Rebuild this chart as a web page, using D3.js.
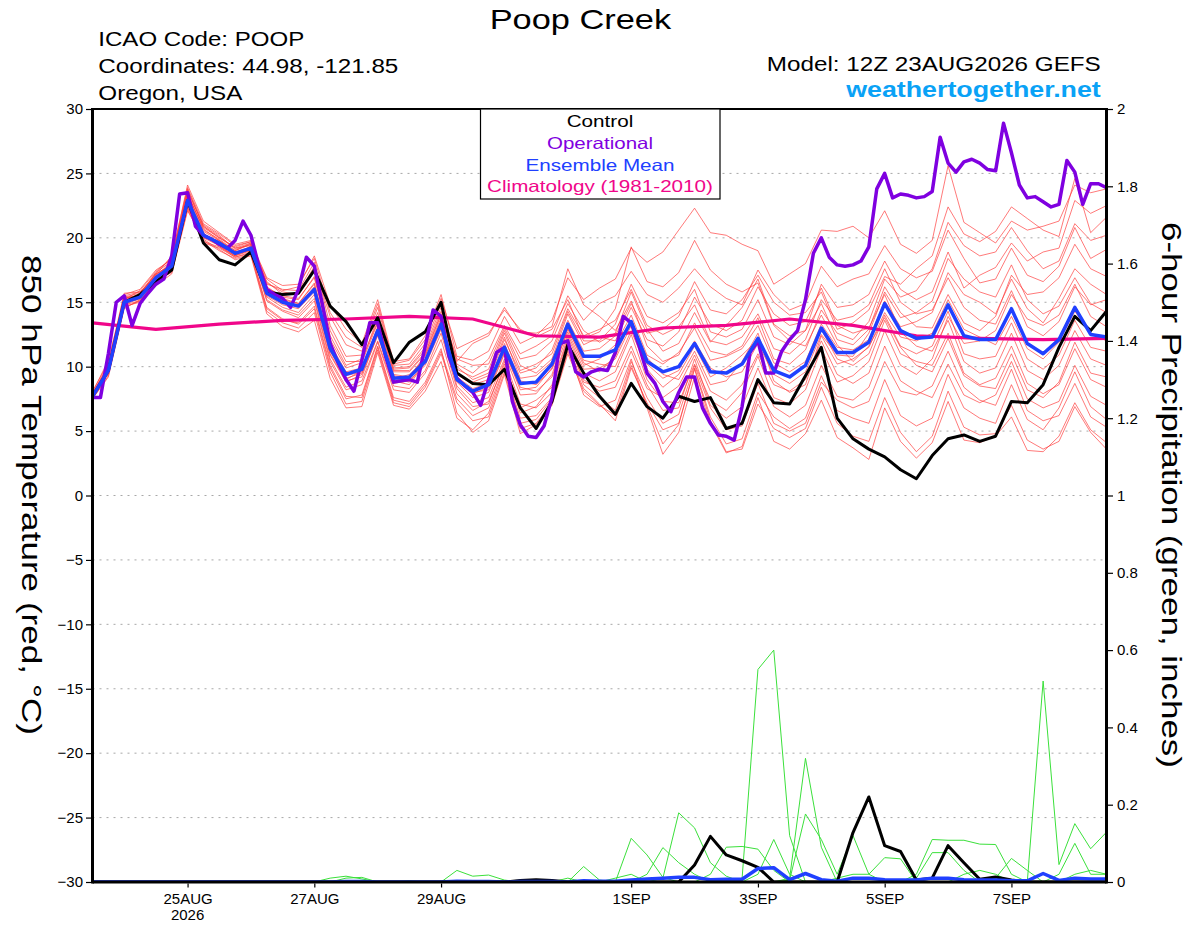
<!DOCTYPE html>
<html><head><meta charset="utf-8">
<script src="https://cdn.jsdelivr.net/npm/d3@7"></script>
<style>
body{margin:0;background:#fff}
svg{display:block}
text{font-family:"Liberation Sans",Arial,Helvetica,sans-serif}
</style>
</head><body>
<svg id="chart" width="1200" height="927"></svg>
<script>
// ---------------- DATA ----------------
const runStart = "2026-08-23T12:00:00Z";
const stepHours = 6;      // ensemble / control / mean
const opStepHours = 3;    // operational run
const climStepHours = 24; // climatology
const endHours = 384;

const tempTicks = [-30,-25,-20,-15,-10,-5,0,5,10,15,20,25,30];
const gridTemps = [-25,-20,-15,-10,-5,0,5,10,15,20,25];
const precipTicks = [0,0.2,0.4,0.6,0.8,1,1.2,1.4,1.6,1.8,2];
const dateTicks = ["2026-08-25","2026-08-27","2026-08-29","2026-09-01","2026-09-03","2026-09-05","2026-09-07"];
const dateTickLabels = ["25AUG","27AUG","29AUG","1SEP","3SEP","5SEP","7SEP"];
const yearLabel = "2026";

const titleText = "Poop Creek";
const infoLines = ["ICAO Code: POOP","Coordinates: 44.98, -121.85","Oregon, USA"];
const modelText = "Model: 12Z 23AUG2026 GEFS";
const siteText = "weathertogether.net";
const legendLabels = ["Control","Operational","Ensemble Mean","Climatology (1981-2010)"];
const leftTitle = "850 hPa Temperature (red, °C)";
const rightTitle = "6-hour Precipitation (green, inches)";

const controlTemp = [7.7,9.7,15.0,15.6,16.6,17.5,22.9,19.6,18.3,17.9,18.9,15.8,15.6,15.7,17.5,14.7,13.5,11.7,13.8,10.3,11.9,12.7,15.0,9.5,8.7,8.6,9.8,6.8,5.2,7.3,11.7,9.5,7.7,6.3,8.7,6.9,6.0,7.7,7.3,7.6,5.2,5.6,9.0,7.2,7.1,9.3,11.5,6.0,4.4,3.6,3.0,2.0,1.3,3.1,4.4,4.7,4.2,4.6,7.3,7.2,8.6,11.5,13.9,12.8,14.3];

const meanTemp = [7.7,9.7,15.0,15.4,16.9,17.8,22.9,20.2,19.6,18.8,19.2,15.7,15.0,14.7,16.0,11.4,9.4,9.8,12.8,9.1,9.2,10.4,13.3,9.0,8.1,8.6,11.5,8.7,8.8,10.2,13.3,10.8,10.8,11.3,13.5,10.4,9.6,10.0,11.8,9.6,9.5,10.2,12.2,9.7,9.2,10.1,13.0,11.1,11.1,11.9,14.9,12.8,12.2,12.3,14.8,12.4,12.1,12.1,14.5,11.8,11.0,12.1,14.6,12.5,12.3];

const operationalTemp = [7.6,7.6,11.0,15.0,15.5,13.2,14.9,15.7,16.4,16.8,
18.6,23.4,23.5,20.9,20.2,19.9,19.5,19.2,19.8,21.3,
20.2,17.8,16.0,15.6,15.3,14.6,16.0,18.5,17.8,14.9,
11.8,10.3,9.0,8.1,10.5,13.4,13.4,10.8,8.8,8.9,
9.0,8.8,11.6,14.4,13.9,10.8,9.1,8.5,8.0,7.0,
9.0,11.1,11.5,7.3,5.5,4.6,4.5,5.4,7.6,11.8,
12.0,9.6,9.2,9.6,9.8,9.7,11.1,13.9,13.4,11.6,
9.5,8.7,7.3,6.5,8.0,9.2,9.2,6.8,5.6,4.7,
4.6,4.3,6.9,11.1,12.0,9.5,9.5,11.2,12.1,12.8,
15.2,18.8,20.0,18.5,17.9,17.8,17.9,18.2,19.3,23.8,
25.0,23.1,23.4,23.3,23.1,23.2,23.6,27.8,25.8,25.1,
25.9,26.1,25.8,25.3,25.2,28.9,26.6,24.1,23.1,23.2,
22.8,22.4,22.6,26.0,25.1,22.6,24.2,24.2,23.9];

const climatologyTemp = [13.4,12.9,13.3,13.6,13.7,13.9,13.7,12.4,12.3,13.0,13.2,13.7,13.2,12.4,12.2,12.1,12.2];

const memberTemps = [
[7.8,9.9,15.2,15.6,16.8,17.6,23.2,20.5,19.8,18.9,19.3, 15.9,15.2,14.9,16.5,11.8,9.6,9.9,13.0,9.2,9.0,10.5,13.6, 9.4,8.6,9.0,12.1,9.5,9.9,11.3,14.5,12.4,12.9,13.6,16.0,13.2,12.5,13.1,14.8,12.0,11.7,12.3,14.1, 11.4,11.0,12.1,15.2,13.6,13.9,14.8,17.6,15.0,14.1,14.4,16.9,14.6,13.6,13.3,15.9,13.1,12.4,13.5,16.2,14.8,15.2],
[7.6,9.5,14.8,15.3,17.1,18.0,22.6,20.0,19.4,18.6,19.0, 15.4,14.6,14.2,15.6,10.9,8.8,9.4,12.4,8.7,8.9,10.1,12.9, 8.5,7.2,7.6,10.6,7.1,6.8,8.0,11.9,9.0,8.1,8.4,11.2,8.3,7.6,8.5,10.9,8.1,7.4,8.6,11.0, 8.6,8.1,9.0,12.0,9.4,8.7,9.5,12.8,10.1,9.4,10.6,13.9,11.8,12.0,12.8,15.6,13.7,13.2,14.0,16.4,13.9,13.1],
[7.9,10.2,15.5,15.8,17.0,18.2,23.8,20.9,20.1,19.2,19.6, 16.8,15.9,16.2,18.6,14.8,12.9,11.8,15.2,10.4,10.6,12.4,15.6, 10.8,10.5,11.2,13.9,11.8,12.4,13.6,16.9,15.2,16.1,16.8,19.2,18.1,18.9,20.6,22.3,20.4,20.2,19.5,19.0, 16.4,17.2,18.0,20.6,20.5,20.9,20.0,22.1,19.5,18.8,19.8,25.6,21.2,20.4,19.6,21.3,20.6,20.9,21.3,24.1,23.5,23.8],
[7.5,9.3,14.6,15.1,16.5,17.4,22.2,19.8,19.0,18.4,18.7, 14.3,13.4,13.0,14.2,9.6,7.1,7.3,11.3,7.2,6.9,8.4,11.0, 7.2,5.8,6.1,9.6,5.2,5.6,7.2,11.2,8.3,7.1,5.8,9.9,7.2,5.1,5.6,9.8,5.8,3.4,3.6,7.1, 5.2,4.5,5.2,8.4,5.6,4.6,4.2,7.6,4.9,3.4,4.6,8.1,5.3,4.7,4.8,7.0,4.3,3.6,4.2,6.9,4.9,3.6],
[8.0,10.5,15.3,15.5,17.3,18.5,24.1,21.3,20.4,19.5,19.8, 16.5,15.8,15.6,17.8,13.9,11.7,11.2,14.6,10.1,10.2,11.8,14.9, 10.4,11.8,12.4,14.6,12.7,12.6,13.1,17.6,14.8,13.9,12.8,15.1,11.6,10.4,10.9,13.4,11.2,10.9,11.6,13.8, 10.6,10.2,11.3,14.4,12.6,12.1,13.5,16.8,15.4,15.9,17.6,21.2,19.4,18.6,18.9,20.8,19.0,17.6,18.2,21.1,19.8,20.2],
[7.7,9.6,15.1,15.2,16.6,17.7,22.9,20.1,19.5,18.7,19.1, 15.7,15.0,14.6,15.9,11.2,9.0,9.7,12.6,9.0,9.4,10.6,13.4, 9.1,7.9,8.4,11.3,8.2,8.4,9.9,13.0,10.3,9.6,10.8,13.6,10.7,9.4,9.0,11.2,8.6,8.9,10.4,12.6, 8.9,8.0,8.6,12.4,10.2,10.6,11.5,14.2,12.3,12.0,12.6,15.2,12.9,12.3,11.7,13.9,11.4,10.6,11.9,14.3,12.6,12.0],
[7.6,9.8,14.9,15.7,17.2,17.9,23.5,20.6,19.9,19.0,19.5, 16.1,15.5,15.3,16.9,12.1,9.9,10.3,13.4,9.6,9.6,11.0,14.0, 9.8,9.2,9.8,12.8,10.1,9.5,10.6,14.1,11.7,12.3,12.0,14.6,12.1,11.6,12.7,15.4,13.3,12.8,13.6,16.2, 14.1,13.2,13.5,16.1,13.2,12.6,13.0,15.6,12.7,11.6,11.2,13.6,10.4,9.5,9.9,12.6,9.7,9.0,10.1,12.8,10.6,10.1],
[7.8,9.4,15.4,15.4,16.7,17.3,22.4,19.6,19.2,18.5,18.9, 14.6,13.7,13.3,14.5,9.9,7.5,7.8,11.6,7.6,7.3,8.8,11.4, 6.4,4.9,5.8,9.4,4.8,5.5,7.0,11.0,8.1,7.0,6.2,10.1,7.0,4.0,5.5,9.9,6.1,4.0,4.4,8.0, 6.1,5.2,6.0,9.3,6.6,6.0,5.6,9.0,6.2,5.4,6.0,9.4,6.8,6.0,5.6,8.6,5.9,5.1,6.8,9.6,6.9,5.9],
[7.9,10.0,15.6,16.0,17.5,18.3,23.3,20.8,20.0,19.3,19.7, 16.4,16.0,15.9,18.1,13.2,10.8,10.9,14.2,9.9,10.0,11.5,14.6, 10.2,9.5,10.6,13.2,11.0,11.6,12.4,15.5,13.6,14.9,15.5,17.4,15.6,15.0,16.1,17.6,16.2,15.3,14.8,17.5, 15.6,14.4,14.9,17.8,16.2,16.8,17.2,19.4,17.6,16.9,17.4,20.6,18.4,16.5,16.8,19.2,17.1,16.6,17.8,20.8,18.4,19.1],
[7.7,9.7,14.7,15.0,16.4,17.5,22.7,20.3,19.7,18.8,19.0, 15.2,14.4,14.0,15.3,10.6,8.4,8.9,12.0,8.5,8.3,9.7,12.6, 8.3,6.9,7.1,10.4,6.4,6.9,8.6,12.3,9.5,8.9,9.6,12.5,9.0,7.3,7.2,10.2,7.4,6.6,8.0,10.8, 7.6,7.1,8.2,11.4,8.8,9.3,10.4,13.6,11.0,10.4,10.1,12.6,9.5,8.6,9.1,11.6,8.7,7.9,8.6,11.4,9.0,8.4],
[7.6,9.6,15.0,15.5,16.9,18.1,23.0,20.4,19.3,18.6,19.4, 15.8,15.1,14.8,16.2,11.5,9.3,9.6,12.9,9.3,9.1,10.8,13.8, 9.2,8.3,8.7,11.8,8.9,8.6,9.8,12.7,10.1,10.6,11.7,14.0,10.9,10.2,11.1,13.0,10.5,10.8,11.4,13.2, 10.3,9.6,10.4,13.3,11.5,11.3,12.1,15.1,13.1,13.5,14.2,17.3,15.6,15.0,14.1,16.8,14.5,13.4,15.3,17.6,16.4,15.6],
[7.8,10.1,15.2,15.9,17.4,18.4,23.6,21.0,20.2,19.1,19.5, 16.6,15.6,15.7,17.4,12.8,10.4,10.4,13.8,9.8,9.9,11.3,14.3, 10.6,10.1,10.2,13.0,10.6,10.9,12.0,14.9,12.8,11.9,12.6,15.8,12.9,11.2,11.8,14.2,11.9,13.2,14.6,16.8, 13.3,12.4,12.8,14.9,12.1,11.7,12.9,16.2,14.2,13.1,13.0,15.6,13.4,12.8,13.9,17.1,15.6,15.8,16.9,19.5,17.6,17.0],
[7.5,9.2,14.5,15.2,16.3,17.2,22.1,19.9,19.1,18.3,18.6, 14.1,13.1,12.7,13.6,9.1,6.8,6.9,11.1,7.0,6.7,8.1,10.4, 6.0,5.1,6.4,9.9,6.0,6.2,7.6,11.5,7.8,6.9,7.4,10.6,6.8,3.2,4.9,9.2,5.6,3.3,3.8,7.6, 4.2,3.6,4.8,7.4,4.5,3.7,2.8,6.8,4.2,2.9,4.1,7.3,4.3,4.1,4.6,6.1,3.5,3.4,4.6,7.2,5.1,4.1],
[7.9,9.9,15.3,15.6,17.0,17.8,22.8,20.2,19.6,18.9,19.2, 15.5,14.8,14.5,15.8,11.0,8.9,9.2,12.5,8.9,8.6,10.3,13.1, 8.8,7.6,8.0,11.0,7.8,7.9,9.4,12.9,10.5,10.2,10.0,12.8,9.8,8.4,9.4,11.6,9.2,9.9,10.9,12.1, 9.8,9.2,10.0,12.9,10.6,10.1,11.0,14.0,11.6,11.0,11.6,14.3,11.0,10.6,10.8,13.4,10.6,9.8,10.9,13.6,11.5,11.2],
[7.7,9.8,15.1,15.3,16.8,18.0,23.1,20.0,19.8,18.7,19.3, 15.9,15.3,14.9,16.4,11.6,9.4,9.8,13.1,9.4,9.2,10.9,13.5, 9.5,8.8,9.3,12.3,9.1,9.3,10.4,13.6,11.2,11.4,12.4,14.9,12.6,12.9,13.9,16.6,14.4,14.1,15.2,17.1, 15.0,14.0,14.2,15.8,12.9,13.4,14.4,17.0,16.4,17.6,18.6,22.4,20.3,19.7,20.5,22.4,21.5,20.6,20.1,24.6,20.4,21.6],
[8.1,10.3,15.7,15.8,17.1,18.6,23.9,21.1,20.3,19.4,19.7, 16.9,16.3,16.4,18.4,14.2,12.3,11.5,14.9,10.2,10.5,12.1,15.3, 11.4,12.0,12.6,14.4,12.9,12.3,12.9,15.2,12.2,12.7,14.5,19.3,16.6,16.2,17.3,19.8,17.5,16.4,15.8,16.5, 13.2,12.0,11.6,14.0,11.7,10.4,11.6,13.8,11.5,10.1,9.6,12.2,9.3,8.5,8.3,11.0,8.2,7.6,8.8,11.9,9.5,9.2],
[7.6,9.5,14.9,15.4,16.6,17.6,22.5,19.7,19.3,18.5,18.8, 14.5,13.6,13.4,14.7,10.1,7.7,7.6,11.5,7.4,7.1,8.6,11.2, 7.5,6.2,6.8,10.0,5.6,5.9,7.5,11.6,8.6,7.6,6.6,10.4,7.6,5.6,6.3,10.1,6.8,5.1,5.4,8.7, 5.6,5.0,5.6,8.8,7.4,6.8,7.3,10.4,8.1,7.8,8.5,11.2,8.4,7.4,7.0,9.8,6.6,5.8,6.2,8.7,6.1,5.3],
[7.8,9.7,15.0,15.6,17.2,17.9,23.4,20.7,19.8,19.0,19.6, 15.6,14.9,14.7,16.0,11.3,9.1,9.5,12.7,9.1,8.8,10.4,13.2, 8.9,8.0,8.2,11.1,8.4,8.1,9.2,12.5,9.8,9.9,10.6,13.2,10.2,9.1,9.7,12.0,9.9,9.2,9.6,11.8, 9.4,8.7,9.6,12.5,10.9,10.8,12.6,15.8,13.8,14.2,15.1,18.4,16.8,15.8,15.4,17.9,15.2,14.1,14.7,16.9,14.9,14.2],
[7.7,9.6,14.8,15.1,16.7,17.5,22.3,20.1,19.4,18.6,19.1, 15.1,14.3,13.8,15.1,10.4,8.2,8.6,11.9,8.2,8.0,9.5,12.1, 7.9,6.6,7.3,10.2,6.8,7.4,8.4,12.1,8.8,8.4,8.9,11.6,8.6,6.6,6.8,10.6,7.0,6.0,6.9,9.9, 6.9,6.1,7.0,10.1,7.7,7.4,8.4,11.6,8.9,8.1,7.6,10.2,7.8,7.2,7.8,10.4,7.5,6.8,7.3,10.1,7.7,7.0],
[7.9,10.0,15.4,15.7,17.3,18.2,23.7,20.9,20.0,19.2,19.4, 16.2,15.4,15.2,17.0,12.4,10.1,10.6,13.5,9.7,9.7,11.1,14.1, 10.0,9.0,9.5,12.6,9.7,10.2,11.0,14.3,12.0,12.0,13.3,16.4,13.9,13.4,14.2,16.0,12.7,12.3,12.9,15.2, 12.3,11.7,12.8,16.4,14.6,14.8,15.6,18.2,16.0,15.2,15.8,18.9,16.1,17.1,17.7,19.6,18.2,18.9,19.2,22.9,21.9,22.5]
];

const controlPrecip = [0,0,0,0,0,0,0,0,0,0, 0,0,0,0,0,0,0,0,0,0, 0,0,0,0,0,0,0,0.004,0.006,0.004, 0,0,0,0,0,0,0,0,0.044,0.118, 0.07,0.055,0.038,0,0,0,0,0,0.128,0.22, 0.094,0.079,0.005,0.01,0.094,0.05,0.007,0.013,0.005,0, 0,0,0,0,0];

const meanPrecip = [0,0,0,0,0,0,0,0,0,0, 0,0,0,0,0,0,0.001,0.001,0,0, 0,0,0,0.002,0.001,0.001,0,0.001,0.001,0.001, 0,0.003,0.002,0.002,0.005,0.008,0.01,0.012,0.012,0.006, 0.007,0.007,0.035,0.037,0.006,0.022,0.006,0.002,0.01,0.01, 0.006,0.005,0.005,0.01,0.01,0.006,0.005,0.005,0.003,0.003, 0.022,0.004,0.01,0.008,0.008];

// member precipitation: [step index, inches] pairs, all other steps are 0
const memberPrecipEvents = [
[[41,0.01],[42,0.55],[43,0.60],[44,0.12]],
[[44,0.01],[45,0.32],[46,0.09]],
[[44,0.005],[45,0.176],[46,0.11],[47,0.02],[48,0.12],[49,0.02],[50,0.063],[51,0.06]],
[[36,0.01],[37,0.179],[38,0.14],[39,0.05],[40,0.015]],
[[34,0.113],[35,0.07],[36,0.012]],
[[35,0.02],[36,0.089],[37,0.05],[38,0.02]],
[[39,0.02],[40,0.09],[41,0.092],[42,0.085],[43,0.03]],
[[42,0.02],[43,0.11],[44,0.02]],
[[52,0.02],[53,0.11],[54,0.108],[55,0.108],[56,0.098],[57,0.097],[58,0.02]],
[[52,0.01],[53,0.076],[54,0.076],[55,0.03]],
[[57,0.01],[58,0.061],[59,0.03]],
[[60,0.52],[61,0.045],[62,0.151],[63,0.086],[64,0.129]],
[[61,0.02],[62,0.10],[63,0.02],[64,0.02]],
[[23,0.03],[24,0.015],[25,0.018],[26,0.005],[31,0.04],[32,0.005]],
[[15,0.01],[16,0.015],[17,0.008],[20,0.003]],
[[16,0.01],[17,0.012],[30,0.01]],
[[47,0.01],[48,0.02],[49,0.02]],
[[55,0.02],[56,0.03],[57,0.02]],
[[33,0.01],[34,0.02]],
[[62,0.02],[63,0.03],[64,0.02]]
];

// ---------------- DRAWING ----------------
const L = 92.5, R = 1106.5, T = 109, B = 882;
const svg = d3.select("#chart");
const t0 = new Date(runStart);
const hrs = h => new Date(t0.getTime() + h*3600e3);

const x = d3.scaleUtc().domain([t0, hrs(endHours)]).range([L, R]);
const yT = d3.scaleLinear().domain([-30, 30]).range([B, T]);
const yP = d3.scaleLinear().domain([0, 2]).range([B, T]);

const FONT = '"Liberation Sans",Arial,Helvetica,sans-serif';

svg.append("defs").append("clipPath").attr("id","plotclip")
  .append("rect").attr("x",L).attr("y",T).attr("width",R-L).attr("height",B-T);

// grid
svg.append("g").selectAll("line").data(gridTemps).join("line")
  .attr("x1",L).attr("x2",R).attr("y1",d=>yT(d)).attr("y2",d=>yT(d))
  .attr("stroke","#a8a8a8").attr("stroke-width",1).attr("stroke-dasharray","2,5");

const plot = svg.append("g").attr("clip-path","url(#plotclip)");
const lineStep = (scale, step) => d3.line().x((d,i)=>x(hrs(i*step))).y(d=>scale(d));

// ensemble members (red)
plot.append("g").selectAll("path").data(memberTemps).join("path")
  .attr("d", lineStep(yT, stepHours)).attr("fill","none")
  .attr("stroke","#ff3838").attr("stroke-opacity",0.75).attr("stroke-width",0.9);

// member precip (green)
const n = controlTemp.length;
const memberPrecip = memberPrecipEvents.map(ev => {
  const arr = new Array(n).fill(0);
  ev.forEach(([i,v]) => { arr[i] = v; });
  return arr;
});
plot.append("g").selectAll("path").data(memberPrecip).join("path")
  .attr("d", lineStep(yP, stepHours)).attr("fill","none")
  .attr("stroke","#3be03b").attr("stroke-width",1);

// climatology
plot.append("path").datum(climatologyTemp).attr("d", lineStep(yT, climStepHours))
  .attr("fill","none").attr("stroke","#f0068a").attr("stroke-width",3.2);

// control
plot.append("path").datum(controlTemp).attr("d", lineStep(yT, stepHours))
  .attr("fill","none").attr("stroke","#000").attr("stroke-width",3).attr("stroke-linejoin","round");
plot.append("path").datum(controlPrecip).attr("d", lineStep(yP, stepHours))
  .attr("fill","none").attr("stroke","#000").attr("stroke-width",3).attr("stroke-linejoin","round");

// operational
plot.append("path").datum(operationalTemp).attr("d", lineStep(yT, opStepHours))
  .attr("fill","none").attr("stroke","#7f00e0").attr("stroke-width",3.5).attr("stroke-linejoin","round");

// ensemble mean
plot.append("path").datum(meanTemp).attr("d", lineStep(yT, stepHours))
  .attr("fill","none").attr("stroke","#2040ff").attr("stroke-width",3.5).attr("stroke-linejoin","round");
plot.append("path").datum(meanPrecip).attr("d", lineStep(yP, stepHours))
  .attr("fill","none").attr("stroke","#2040ff").attr("stroke-width",3.5).attr("stroke-linejoin","round");

// frame
svg.append("line").attr("x1",L).attr("x2",R).attr("y1",T).attr("y2",T).attr("stroke","#000").attr("stroke-width",2);
svg.append("line").attr("x1",L).attr("x2",R).attr("y1",B).attr("y2",B).attr("stroke","#000").attr("stroke-width",3);
svg.append("line").attr("x1",L).attr("x2",L).attr("y1",T-1).attr("y2",B+1.5).attr("stroke","#000").attr("stroke-width",3);
svg.append("line").attr("x1",R).attr("x2",R).attr("y1",T-1).attr("y2",B+1.5).attr("stroke","#000").attr("stroke-width",3);

function styleAxis(g){
  g.select(".domain").remove();
  g.selectAll("text").attr("font-family",FONT).attr("font-size",15).attr("fill","#000");
  g.selectAll("line").attr("stroke","#000").attr("stroke-width",1.2);
}
svg.append("g").attr("transform",`translate(${L-1.5},0)`)
  .call(d3.axisLeft(yT).tickValues(tempTicks).tickSize(5).tickPadding(3).tickFormat(d3.format("d")))
  .call(styleAxis);
svg.append("g").attr("transform",`translate(${R+1.5},0)`)
  .call(d3.axisRight(yP).tickValues(precipTicks).tickSize(5).tickPadding(4).tickFormat(d3.format("~g")))
  .call(styleAxis);
svg.append("g").attr("transform",`translate(0,${B+1.5})`)
  .call(d3.axisBottom(x).tickValues(dateTicks.map(d=>new Date(d+"T00:00:00Z"))).tickSize(4).tickPadding(6)
    .tickFormat((d,i)=>dateTickLabels[i]))
  .call(styleAxis);
svg.append("text").attr("x",x(new Date(dateTicks[0]+"T00:00:00Z"))).attr("y",B+38)
  .attr("text-anchor","middle").attr("font-size",15).attr("font-family",FONT).text(yearLabel);

// helper: text stretched to the reference width
function stext(parent, str, px, py, size, width, anchor){
  return parent.append("text").attr("x",px).attr("y",py).attr("text-anchor",anchor||"start")
    .attr("font-size",size).attr("font-family",FONT)
    .attr("textLength",width).attr("lengthAdjust","spacingAndGlyphs").text(str);
}

// titles
stext(svg, titleText, 580.4, 29.3, 28, 181.5, "middle");
const infoWidths = [206, 300, 144];
infoLines.forEach((s,i)=>stext(svg, s, 98.3, 45.8+i*26.9, 20, infoWidths[i]));
stext(svg, modelText, 1100.8, 71.2, 20, 334, "end");
stext(svg, siteText, 1100.8, 96.8, 22, 254.6, "end").attr("font-weight","bold").attr("fill","#0aa2f6");

// axis titles
stext(svg, leftTitle, 0, 0, 28, 480, "middle")
  .attr("transform","translate(31.5,495) rotate(90)").attr("dominant-baseline","central");
stext(svg, rightTitle, 0, 0, 28, 546, "middle")
  .attr("transform","translate(1171,495) rotate(90)").attr("dominant-baseline","central");

// legend
const legendColors = ["#000","#7f00e0","#2040ff","#f0068a"];
const legendWidths = [66.6, 106, 149, 225.8];
svg.append("rect").attr("x",480.5).attr("y",T).attr("width",239.5).attr("height",90)
  .attr("fill","#fff").attr("stroke","#000").attr("stroke-width",1.2);
legendLabels.forEach((s,i)=>stext(svg, s, 600, 126.7+i*21.9, 16.5, legendWidths[i], "middle").attr("fill",legendColors[i]));
</script>
</body></html>
